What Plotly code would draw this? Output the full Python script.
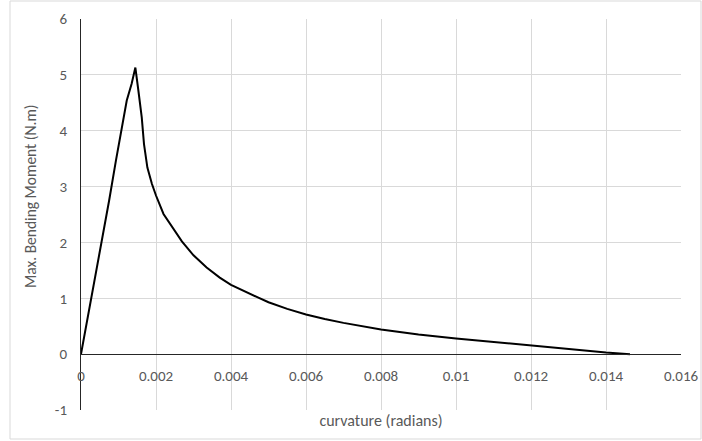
import plotly.graph_objects as go

# Data
curvature = [0, 0.00028, 0.00055, 0.00075, 0.00093, 0.00106, 0.00122, 0.00135,
             0.00145, 0.00153, 0.00162, 0.00168, 0.00177, 0.00189, 0.00200,
             0.00220, 0.00246, 0.00269, 0.00300, 0.00335, 0.00370, 0.00400,
             0.00470, 0.00500, 0.00550, 0.00600, 0.00650, 0.00700, 0.00800,
             0.00900, 0.01000, 0.01100, 0.01200, 0.01300, 0.01400, 0.01464]
moment = [0, 1.0, 2.0, 2.75, 3.46, 3.95, 4.54, 4.84,
          5.13, 4.72, 4.24, 3.76, 3.34, 3.05, 2.84,
          2.51, 2.24, 2.02, 1.77, 1.55, 1.37, 1.24,
          1.02, 0.93, 0.81, 0.71, 0.63, 0.56, 0.44,
          0.35, 0.28, 0.215, 0.155, 0.09, 0.03, 0.0]

x_tickvals = [0, 0.002, 0.004, 0.006, 0.008, 0.01, 0.012, 0.014, 0.016]
x_ticktext = ["0", "0.002", "0.004", "0.006", "0.008", "0.01", "0.012", "0.014", "0.016"]
y_tickvals = [-1, 0, 1, 2, 3, 4, 5, 6]
y_ticktext = ["-1", "0", "1", "2", "3", "4", "5", "6"]

x_title = "curvature (radians)"
y_title = "Max. Bending Moment (N.m)"

FONT = "Carlito, Calibri, Lato, sans-serif"
TXT = "#595959"
GRID = "#d9d9d9"

fig = go.Figure()
fig.add_trace(go.Scatter(
    x=curvature, y=moment, mode="lines",
    line=dict(color="#000000", width=2),
    showlegend=False, hoverinfo="skip",
))

ymin, ymax = y_tickvals[0], y_tickvals[-1]

fig.update_layout(
    width=702, height=441,
    margin=dict(l=81, r=21, t=19, b=31, autoexpand=False),
    paper_bgcolor="white", plot_bgcolor="white",
    font=dict(family=FONT, color=TXT, size=15),
    xaxis=dict(
        range=[x_tickvals[0], x_tickvals[-1]],
        tickvals=x_tickvals, ticktext=x_ticktext,
        showgrid=True, gridcolor=GRID, gridwidth=1,
        zeroline=False, automargin=False,
        showline=True, linecolor="#262626", linewidth=1,
        anchor="free", position=(0 - ymin) / (ymax - ymin),
        ticks="", ticklen=0, ticklabelstandoff=8,
        tickfont=dict(size=15, color=TXT),
        title=dict(text=x_title, font=dict(size=16, color=TXT), standoff=30),
    ),
    yaxis=dict(
        range=[ymin, ymax],
        tickvals=y_tickvals, ticktext=y_ticktext,
        showgrid=True, gridcolor=GRID, gridwidth=1,
        zeroline=False, automargin=False,
        showline=True, linecolor="#262626", linewidth=1,
        ticks="", ticklen=0, ticklabelstandoff=10,
        tickfont=dict(size=15, color=TXT),
    ),
    annotations=[
        dict(text=y_title, textangle=-90, xref="paper", yref="paper",
             x=(30 - 81) / 600, y=(410 - 196) / 391,
             xanchor="center", yanchor="middle", showarrow=False,
             font=dict(size=15.5, color=TXT, family=FONT)),
    ],
    shapes=[
        dict(type="rect", xref="paper", yref="paper",
             x0=(10 - 81) / 600, x1=(701 - 81) / 600,
             y0=(410 - 439) / 391, y1=(410 - 1) / 391,
             line=dict(color=GRID, width=1), fillcolor="rgba(0,0,0,0)",
             layer="below"),
    ],
)

fig.write_html("out.html")
